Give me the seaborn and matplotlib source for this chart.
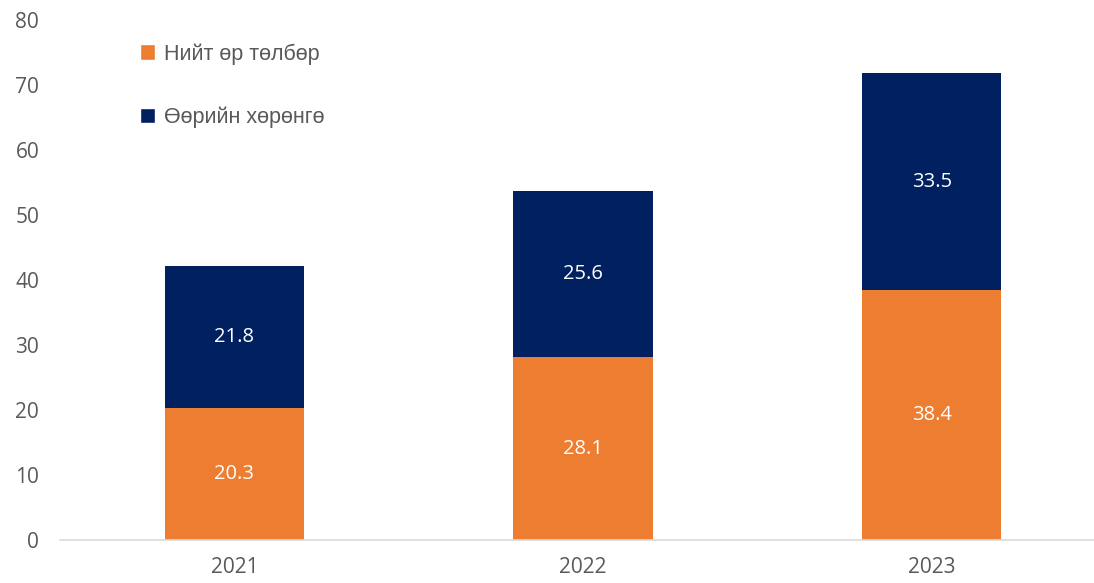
import numpy as np
import pandas as pd
import matplotlib
matplotlib.use("Agg")
import matplotlib.pyplot as plt
from matplotlib.patches import Patch
import seaborn as sns

# Өгөгдөл
years = ["2021", "2022", "2023"]
liabilities = [20.3, 28.1, 38.4]   # Нийт өр төлбөр
equity = [21.8, 25.6, 33.5]        # Өөрийн хөрөнгө
series_names = ["Нийт өр төлбөр", "Өөрийн хөрөнгө"]

ORANGE = "#ED7D31"
NAVY = "#002060"
GREY = "#595959"

df = pd.DataFrame({"year": years, "liab": liabilities, "eq": equity})
df["total"] = df["liab"] + df["eq"]

sns.set_theme(style="white")
plt.rcParams["font.family"] = ["Open Sans", "DejaVu Sans"]

fig = plt.figure(figsize=(10.94, 5.83), dpi=100)
ax = fig.add_axes([60 / 1094, 43 / 583, 1046 / 1094, 520 / 583])

# нийт баганыг зурж, дээр нь өр төлбөрийг давхарлана
sns.barplot(data=df, x="year", y="total", color=NAVY, width=0.4,
            saturation=1, linewidth=0, ax=ax)
sns.barplot(data=df, x="year", y="liab", color=ORANGE, width=0.4,
            saturation=1, linewidth=0, ax=ax)

ax.bar_label(ax.containers[1], labels=[f"{v:.1f}" for v in liabilities],
             label_type="center", color="white", fontsize=14.5)
for i, (l, e) in enumerate(zip(liabilities, equity)):
    ax.text(i, l + e / 2, f"{e:.1f}", ha="center", va="center",
            color="white", fontsize=14.5)

ax.set_xlim(-0.5, 2.5)
ax.set_ylim(0, 80)
ax.set_yticks(np.arange(0, 81, 10))
ax.set_xlabel("")
ax.set_ylabel("")
ax.tick_params(axis="both", colors=GREY, labelsize=15, length=0)
ax.tick_params(axis="y", pad=15)
ax.tick_params(axis="x", pad=12)
for s in ["top", "right", "left"]:
    ax.spines[s].set_visible(False)
ax.spines["bottom"].set_color("#D9D9D9")
ax.spines["bottom"].set_linewidth(1.2)
ax.grid(False)

handles = [Patch(facecolor=ORANGE), Patch(facecolor=NAVY)]
leg = ax.legend(handles, series_names, loc="upper left",
                bbox_to_anchor=(0.058, 0.993), frameon=False,
                fontsize=15.5, labelspacing=1.95, handlelength=0.7,
                handleheight=0.7, handletextpad=0.4)
for t in leg.get_texts():
    t.set_color(GREY)
    t.set_family(["Liberation Sans", "DejaVu Sans"])

fig.savefig("out.png", dpi=100)
